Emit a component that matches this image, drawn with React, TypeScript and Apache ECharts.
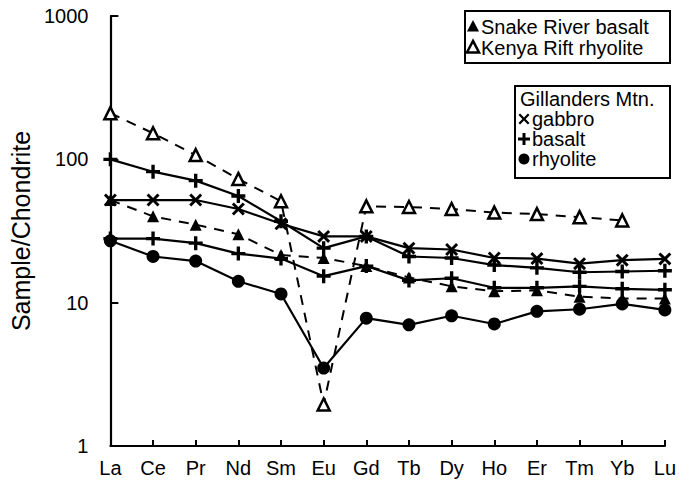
import React, { useEffect, useRef } from "react";
import * as echarts from "echarts";

const elements = ["La", "Ce", "Pr", "Nd", "Sm", "Eu", "Gd", "Tb", "Dy", "Ho", "Er", "Tm", "Yb", "Lu"];
const kenyaRhyolite = [210, 152, 107, 73, 51, 1.95, 47, 46.5, 45, 42.5, 41.5, 39.5, 37.5, null];
const snakeBasalt = [52, 40, 35, 30, 21.5, 20.5, 18, 15, 13, 12, 12.2, 11, 10.7, 10.7];
const gabbro = [52, 52, 52, 45, 35.5, 29, 29, 24, 23.5, 20.5, 20.3, 18.7, 19.8, 20.2];
const basaltA = [100, 82, 71, 55.5, 37, 24, 29, 21, 20.5, 18.3, 17.5, 16.3, 16.5, 16.7];
const basaltB = [28, 28, 26, 22, 20.3, 15.3, 18, 14.3, 14.8, 12.7, 12.7, 13, 12.5, 12.3];
const rhyolite = [27, 21, 19.5, 14.1, 11.5, 3.5, 7.8, 7, 8.1, 7.1, 8.7, 9, 9.8, 8.9];

const FONT = "Liberation Sans, Arial, Helvetica, sans-serif";
const X_SYM = "path://M0,1.6 L1.6,0 L5,3.4 L8.4,0 L10,1.6 L6.6,5 L10,8.4 L8.4,10 L5,6.6 L1.6,10 L0,8.4 L3.4,5 Z";
const PLUS_SYM = "path://M3.8,0 H6.2 V3.8 H10 V6.2 H6.2 V10 H3.8 V6.2 H0 V3.8 H3.8 Z";

function xPoly(cx: number, cy: number, r: number, t: number) {
  return [
    [cx - r, cy - r + t], [cx - r + t, cy - r], [cx, cy - t], [cx + r - t, cy - r], [cx + r, cy - r + t],
    [cx + t, cy], [cx + r, cy + r - t], [cx + r - t, cy + r], [cx, cy + t], [cx - r + t, cy + r],
    [cx - r, cy + r - t], [cx - t, cy],
  ];
}
function plusPoly(cx: number, cy: number, r: number, t: number) {
  return [
    [cx - t, cy - r], [cx + t, cy - r], [cx + t, cy - t], [cx + r, cy - t], [cx + r, cy + t], [cx + t, cy + t],
    [cx + t, cy + r], [cx - t, cy + r], [cx - t, cy + t], [cx - r, cy + t], [cx - r, cy - t], [cx - t, cy - t],
  ];
}
function tri(cx: number, cy: number, s: number) {
  return [[cx, cy - s * 0.6], [cx + s * 0.55, cy + s * 0.45], [cx - s * 0.55, cy + s * 0.45]];
}

export default function App() {
  const ref = useRef<HTMLDivElement>(null);
  useEffect(() => {
    if (!ref.current) return;
    const chart = echarts.init(ref.current, null, { renderer: "svg" });
    const base = { type: "line", animation: false, z: 3 };
    const dashed = { color: "#000", width: 2, type: [10, 8] };
    const solid = { color: "#000", width: 2.2, type: "solid" };
    const t1 = { fontFamily: FONT, fontSize: 20, fill: "#000", verticalAlign: "middle" };
    const t2 = { fontFamily: FONT, fontSize: 20, fill: "#000", verticalAlign: "middle" };
    chart.setOption({
      animation: false,
      backgroundColor: "#fff",
      textStyle: { fontFamily: FONT },
      grid: { left: 103, right: 12, top: 16, bottom: 37 },
      xAxis: {
        type: "category",
        data: elements,
        boundaryGap: false,
        axisLine: { lineStyle: { color: "#000", width: 2.2 } },
        axisTick: { inside: true, length: 6, alignWithLabel: true, lineStyle: { color: "#000", width: 2 } },
        axisLabel: { color: "#000", fontSize: 20, fontFamily: FONT, margin: 12, interval: 0 },
        splitLine: { show: false },
      },
      yAxis: {
        type: "log",
        logBase: 10,
        min: 1,
        max: 1000,
        name: "Sample/Chondrite",
        nameLocation: "middle",
        nameGap: 76,
        nameTextStyle: { color: "#000", fontSize: 25, fontFamily: FONT },
        axisLine: { show: true, lineStyle: { color: "#000", width: 2.2 } },
        axisTick: { show: true, inside: true, length: 8, lineStyle: { color: "#000", width: 2 } },
        minorTick: { show: false },
        axisLabel: {
          color: "#000", fontSize: 20, fontFamily: FONT, margin: 22,
          formatter: (v: number) => String(Math.round(v)),
        },
        splitLine: { show: false },
      },
      series: [
        {
          ...base, name: "Kenya Rift rhyolite", data: kenyaRhyolite, lineStyle: dashed,
          symbol: "triangle", symbolSize: 12, itemStyle: { color: "#fff", borderColor: "#000", borderWidth: 2.5 },
        },
        {
          ...base, name: "Snake River basalt", data: snakeBasalt, lineStyle: dashed,
          symbol: "triangle", symbolSize: 12, itemStyle: { color: "#000", borderColor: "#000", borderWidth: 0 },
        },
        {
          ...base, name: "gabbro", data: gabbro, lineStyle: solid,
          symbol: X_SYM, symbolSize: 13, itemStyle: { color: "#000", borderWidth: 0 },
        },
        {
          ...base, name: "basalt A", data: basaltA, lineStyle: solid,
          symbol: PLUS_SYM, symbolSize: 14, itemStyle: { color: "#000", borderWidth: 0 },
        },
        {
          ...base, name: "basalt B", data: basaltB, lineStyle: solid,
          symbol: PLUS_SYM, symbolSize: 14, itemStyle: { color: "#000", borderWidth: 0 },
        },
        {
          ...base, name: "rhyolite", data: rhyolite, lineStyle: solid,
          symbol: "circle", symbolSize: 13, itemStyle: { color: "#000", borderWidth: 0 },
        },
      ],
      graphic: [
        { type: "rect", shape: { x: 465, y: 11, width: 205, height: 52 }, style: { fill: "#fff", stroke: "#000", lineWidth: 2 }, z: 10 },
        { type: "polygon", shape: { points: tri(473, 26.5, 11) }, style: { fill: "#000" }, z: 11 },
        { type: "text", x: 481, y: 26.5, style: { ...t1, text: "Snake River basalt" }, z: 11 },
        { type: "polygon", shape: { points: tri(473, 47.5, 11) }, style: { fill: "#fff", stroke: "#000", lineWidth: 2.5 }, z: 11 },
        { type: "text", x: 481, y: 47.5, style: { ...t1, text: "Kenya Rift rhyolite" }, z: 11 },

        { type: "rect", shape: { x: 515, y: 86, width: 155, height: 92 }, style: { fill: "#fff", stroke: "#000", lineWidth: 2 }, z: 10 },
        { type: "text", x: 520, y: 99, style: { ...t2, text: "Gillanders Mtn." }, z: 11 },
        { type: "polygon", shape: { points: xPoly(524, 119, 5.5, 1.6) }, style: { fill: "#000" }, z: 11 },
        { type: "text", x: 532, y: 119, style: { ...t2, text: "gabbro" }, z: 11 },
        { type: "polygon", shape: { points: plusPoly(524, 139, 6, 1.5) }, style: { fill: "#000" }, z: 11 },
        { type: "text", x: 532, y: 139, style: { ...t2, text: "basalt" }, z: 11 },
        { type: "circle", shape: { cx: 524, cy: 159, r: 5.5 }, style: { fill: "#000" }, z: 11 },
        { type: "text", x: 532, y: 159, style: { ...t2, text: "rhyolite" }, z: 11 },
      ],
    });
    return () => chart.dispose();
  }, []);
  return <div ref={ref} style={{ position: "fixed", left: 0, top: 0, width: 679, height: 483 }} />;
}
